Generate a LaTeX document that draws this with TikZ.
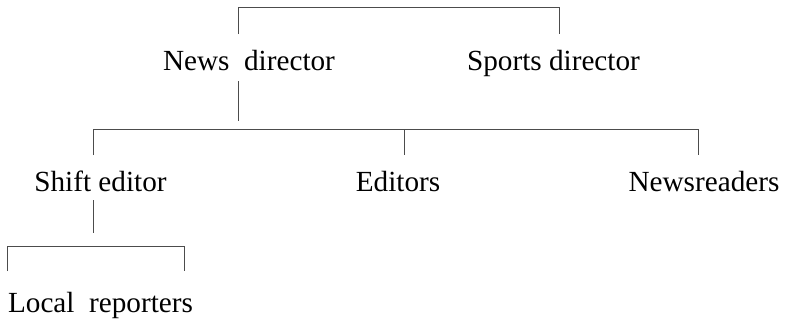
\documentclass[tikz,border=0pt]{standalone}
\usepackage{fontspec}
\setmainfont{Liberation Serif}
\usepackage{tikz}
\tikzset{
	role/.style = { anchor = base, inner sep = 0pt, font = \fontsize{14.6}{17}\selectfont },
	link/.style = { line width = 0.45pt, draw = black!70 }
}

\begin{document}
\begin{tikzpicture}[x = 0.5pt, y = -0.5pt]
	\useasboundingbox (0, 0) rectangle (788, 322);

	\node [role] (nd) at (249, 70.5) {News~~director};
	\node [role] (sd) at (553.5, 70.5) {Sports director};
	\node [role] (se) at (100.5, 191) {Shift editor};
	\node [role] (ed) at (398, 191) {Editors};
	\node [role] (nr) at (704, 191) {Newsreaders};
	\node [role] (lr) at (100.5, 312) {Local~~reporters};

	% Top bracket.
	\coordinate (T1) at (238, 34);
	\coordinate (T2) at (559, 34);
	\draw [link] (T1) to (238, 7) to (559, 7) to (T2);

	% News director down to the desks.
	\coordinate (N1) at (238, 81);
	\coordinate (N2) at (238, 121);
	\draw [link] (N1) to (N2);

	\coordinate (M1) at (93, 155);
	\coordinate (M2) at (404, 155);
	\coordinate (M3) at (698, 155);
	\draw [link] (M1) to (93, 129) to (698, 129) to (M3);
	\draw [link] (404, 129) to (M2);

	% Shift editor down to the reporters.
	\coordinate (S1) at (93, 200);
	\coordinate (S2) at (93, 233);
	\draw [link] (S1) to (S2);

	\coordinate (B1) at (7, 271);
	\coordinate (B2) at (184, 271);
	\draw [link] (B1) to (7, 246) to (184, 246) to (B2);
\end{tikzpicture}
\end{document}
